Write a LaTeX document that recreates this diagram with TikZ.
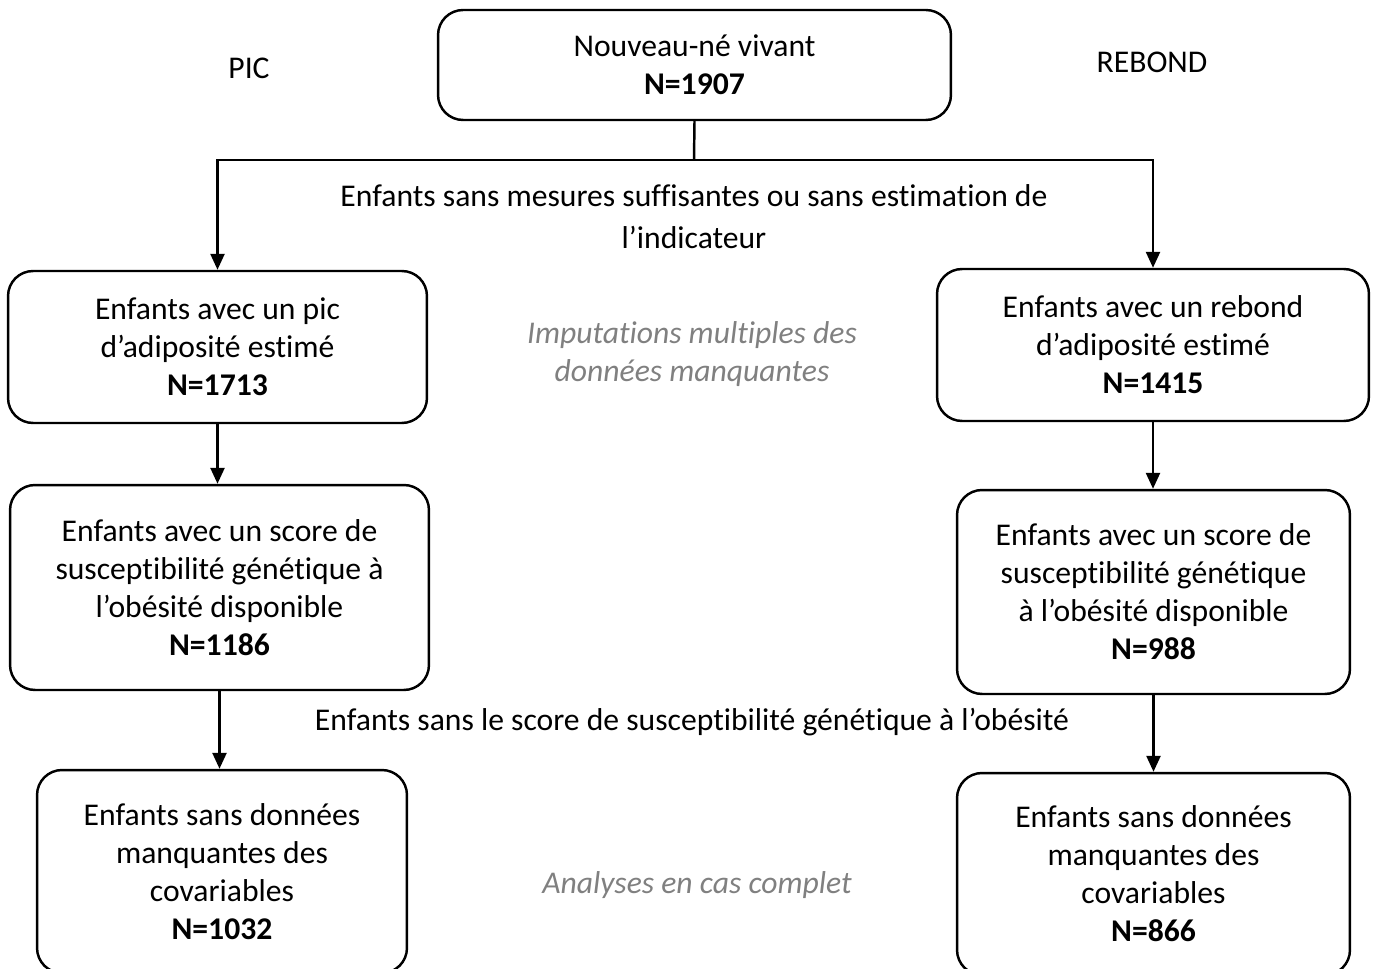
\documentclass[tikz,border=0pt]{standalone}
\usepackage{fontspec}
\setmainfont{Carlito}[Ligatures=NoCommon]
\usepackage{xcolor}
\usetikzlibrary{arrows.meta,positioning}
\definecolor{notegray}{RGB}{128,128,128}

\begin{document}
\begin{tikzpicture}[x=0.02cm,y=-0.02cm,>={Triangle[width=0.28cm,length=0.32cm]},
  every node/.style={font=\fontsize{18}{21.6}\selectfont},
  box/.style={draw,line width=1.4pt,rounded corners=0.5cm,align=center,inner sep=0pt},
  lighttext/.style={align=center,font=\fontsize{18}{23.9}\selectfont},
  note/.style={align=center,text=notegray,font=\fontsize{18}{21.6}\selectfont\itshape},
  link/.style={line width=1.4pt}]
\clip (0,0) rectangle (1376,969);
% top box and branch titles
\node[box,minimum width=10.26cm,minimum height=2.2cm](nn) at (694.5,65){Nouveau-né vivant\\\textbf{N=1907}};
\node(pic) at (249,68){PIC};
\node(rebond) at (1152,62){REBOND};
% left branch
\node[box,minimum width=8.38cm,minimum height=3.04cm](pic1) at (217.5,347){Enfants avec un pic\\d’adiposité estimé\\\textbf{N=1713}};
\node[box,minimum width=8.38cm,minimum height=4.1cm](pic2) at (219.5,587.5){Enfants avec un score de\\susceptibilité génétique à\\l’obésité disponible\\\textbf{N=1186}};
\node[box,minimum width=7.4cm,minimum height=4.06cm](pic3) at (222,871.5){Enfants sans données\\manquantes des\\covariables\\\textbf{N=1032}};
% right branch
\node[box,minimum width=8.64cm,minimum height=3.04cm](reb1) at (1153,345){Enfants avec un rebond\\d’adiposité estimé\\\textbf{N=1415}};
\node[box,minimum width=7.86cm,minimum height=4.08cm](reb2) at (1153.5,592){Enfants avec un score de\\susceptibilité génétique\\à l’obésité disponible\\\textbf{N=988}};
\node[box,minimum width=7.86cm,minimum height=4.04cm](reb3) at (1153.5,874){Enfants sans données\\manquantes des\\covariables\\\textbf{N=866}};
% middle texts
\node[lighttext](excl1) at (694,217){Enfants sans mesures suffisantes ou sans estimation de\\l’indicateur};
\node[note](imput) at (692,354){Imputations multiples des\\données manquantes};
\node[lighttext](excl2) at (692,722){Enfants sans le score de susceptibilité génétique à l’obésité};
\node[note](complet) at (697,885){Analyses en cas complet};
% connectors
\coordinate(split) at (694,160);
\draw[link](nn.south)--(split);
\draw[link,->](split)-|(pic1.north);
\draw[link,->](split)-|(reb1.north);
\draw[link,->](pic1.south)--(pic1.south |- pic2.north);
\draw[link,->](pic2.south)--(pic2.south |- pic3.north);
\draw[link,->](reb1.south)--(reb1.south |- reb2.north);
\draw[link,->](reb2.south)--(reb2.south |- reb3.north);
\end{tikzpicture}
\end{document}
